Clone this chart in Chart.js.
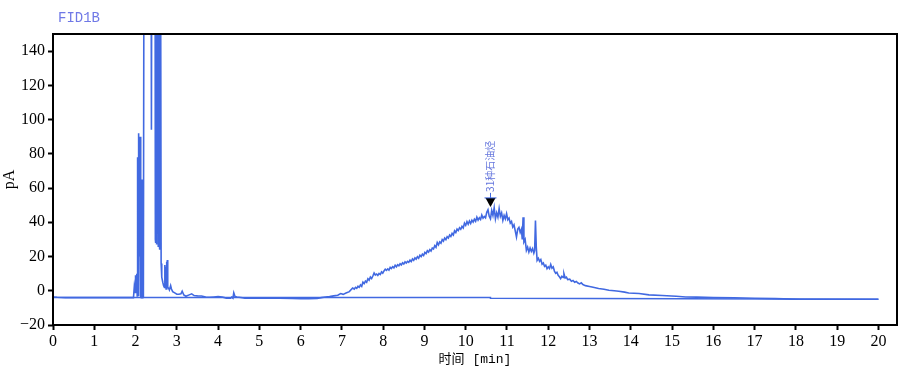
<!DOCTYPE html>
<html>
<head>
<meta charset="utf-8">
<script src="https://cdn.jsdelivr.net/npm/chart.js@4/dist/chart.umd.min.js"></script>
<style>
    html, body { margin: 0; padding: 0; background: #fff; }
</style>
</head>
<body>
<canvas id="chart" width="904" height="372"></canvas>
<script>
// FID1B signal, time in min / current in pA
const signalName = 'FID1B'
const times = [
    0.00, 0.10, 0.30, 1.00, 1.95, 1.97, 1.99, 2.00, 2.02, 2.03, 2.04, 2.05, 2.06, 2.07, 2.08, 2.09,
    2.10, 2.11, 2.12, 2.13, 2.14, 2.15, 2.16, 2.17, 2.18, 2.19, 2.20, 2.21, 2.37, 2.385, 2.40, 2.47,
    2.48, 2.485, 2.49, 2.50, 2.51, 2.52, 2.53, 2.54, 2.55, 2.56, 2.57, 2.58, 2.59, 2.60, 2.61, 2.62,
    2.63, 2.64, 2.66, 2.68, 2.70, 2.71, 2.72, 2.73, 2.74, 2.75, 2.76, 2.77, 2.78, 2.80, 2.82, 2.85,
    2.87, 2.90, 2.95, 3.00, 3.05, 3.10, 3.13, 3.17, 3.22, 3.30, 3.36, 3.42, 3.50, 3.60, 3.70, 3.80,
    3.90, 4.00, 4.10, 4.20, 4.30, 4.33, 4.36, 4.38, 4.41, 4.46, 4.55, 4.65, 5.00, 5.50, 5.80, 6.00,
    6.20, 6.40, 6.50, 6.60, 6.70, 6.80, 6.90, 6.97, 7.03, 7.10, 7.18, 7.26,
    7.30, 7.33, 7.36, 7.39, 7.42, 7.45, 7.48, 7.51, 7.54, 7.57, 7.60, 7.63, 7.66, 7.69, 7.72, 7.75,
    7.78, 7.81, 7.84, 7.87, 7.90, 7.93, 7.96, 7.99, 8.02, 8.05, 8.08, 8.11, 8.14, 8.17, 8.20, 8.23,
    8.26, 8.29, 8.32, 8.35, 8.38, 8.41, 8.44, 8.47, 8.50, 8.53, 8.56, 8.59, 8.62, 8.65, 8.68, 8.71,
    8.74, 8.77, 8.80, 8.83, 8.86, 8.89, 8.92, 8.95, 8.98, 9.01, 9.04, 9.07, 9.10, 9.13, 9.16, 9.19,
    9.22, 9.25, 9.28, 9.31, 9.34, 9.37, 9.40, 9.43, 9.46, 9.49, 9.52, 9.55, 9.58, 9.61, 9.64, 9.67,
    9.70, 9.73, 9.76, 9.79, 9.82, 9.85, 9.88, 9.91, 9.94, 9.97, 10.00, 10.03, 10.06, 10.09, 10.12, 10.15,
    10.18, 10.21, 10.24, 10.27, 10.30, 10.33, 10.36, 10.39, 10.42, 10.45, 10.48, 10.51, 10.54, 10.57, 10.60,
    10.63, 10.66, 10.69, 10.72, 10.75, 10.78, 10.81, 10.84, 10.87, 10.90, 10.93, 10.96, 10.99, 11.02, 11.05, 11.08,
    11.11, 11.14, 11.17, 11.20, 11.23, 11.26, 11.29, 11.32, 11.35, 11.37, 11.39, 11.41, 11.44, 11.47, 11.50, 11.53,
    11.56, 11.59, 11.62, 11.65, 11.67, 11.69, 11.71, 11.73, 11.76, 11.79, 11.82, 11.85, 11.88, 11.91, 11.94, 11.97,
    12.00, 12.03, 12.06, 12.09, 12.12, 12.15, 12.18, 12.21, 12.24, 12.27, 12.30, 12.33, 12.36, 12.38, 12.41, 12.44,
    12.47, 12.52, 12.56, 12.60, 12.64, 12.68, 12.72, 12.76, 12.80, 12.84, 12.90,
    13.00, 13.06, 13.14, 13.22, 13.35, 13.47, 13.60, 13.71, 13.85, 13.95, 14.20, 14.44, 14.76, 15.10, 15.33, 15.60,
    16.00, 16.50, 17.00, 17.50, 17.90, 18.10, 19.00, 20.00
]
const signal = [
    -3.6, -3.8, -4.0, -4.0, -4.0, 2.5, -1, 9, 3, 10, -3, 78, 0, 92, -3, 90,
    20, 90, -4, 5, -4, 65, -4, -4, 65, -4, -4, 300, 300, 94, 300, 300,
    30, 300, 28, 300, 27, 300, 35, 300, 26, 300, 30, 300, 24, 300, 300, 16,
    12, 8, 5, 3, 2, 15, 3, 14, 1, 17, 4, 18, 2, 1.5, 0.5, 3,
    1, -0.5, -1.2, -2, -2, -1.8, -0.3, -2.5, -3.2, -2.4, -1.8, -2.8, -3.0, -3.1, -3.7, -3.8,
    -3.6, -3.4, -3.6, -4.3, -4.4, -3.7, -4.3, -1.2, -3.4, -3.6, -3.9, -4.3, -4.4, -4.4, -4.5, -4.6,
    -4.7, -4.5, -4.0, -3.6, -3.4, -3.0, -2.6, -1.6, -2.1, -1.3, -0.5, 1.6,
    1.0, 2.0, 1.4, 2.6, 2.0, 3.4, 2.6, 5.0, 4.2, 5.6, 4.9, 7.0, 6.2, 8.0, 7.1, 8.6,
    10.4, 9.2, 9.8, 9.0, 10.1, 9.5, 11.0, 10.3, 11.6, 12.6, 11.9, 12.8, 12.1, 13.7, 13.0, 14.1,
    13.4, 14.9, 14.0, 15.2, 14.6, 15.8, 15.1, 16.3, 15.6, 16.9, 16.2, 17.2, 16.6, 17.9, 17.1, 18.6,
    17.8, 19.2, 18.5, 19.9, 19.0, 20.8, 20.0, 21.4, 20.6, 22.4, 21.7, 23.4, 22.6, 24.0, 23.2, 25.0,
    24.4, 26.4, 25.4, 28.2, 26.8, 28.5, 27.8, 29.9, 29.0, 30.8, 29.9, 31.6, 30.8, 32.6, 31.7, 33.5,
    32.6, 35.0, 34.0, 36.0, 35.2, 36.8, 35.9, 37.6, 36.7, 39.5, 38.2, 40.4, 38.9, 40.8, 39.3, 41.2,
    40.1, 41.8, 40.6, 43.0, 41.3, 42.6, 41.6, 44.2, 42.4, 43.4, 42.6, 45.8, 47.3, 43.5, 42.0,
    46.9, 44.0, 48.5, 42.0, 45.5, 43.0, 48.0, 43.5, 45.5, 41.1, 44.0, 42.0, 45.0, 41.5, 42.5, 39.5,
    40.5, 37.2, 38.5, 35.0, 31.4, 36.0, 37.0, 34.0, 36.0, 30.0, 43.0, 28.5, 30.0, 23.6, 25.5, 22.6,
    25.0, 23.0, 24.6, 22.0, 23.5, 41.1, 25.5, 17.8, 19.0, 17.2, 18.2, 15.5, 16.2, 14.3, 15.0, 12.9,
    14.0, 13.0, 15.4, 13.2, 14.0, 11.5, 10.2, 10.8, 9.0, 8.2, 7.1, 8.5, 7.8, 10.0, 7.5, 8.0,
    6.5, 6.8, 5.5, 6.0, 5.0, 5.4, 4.5, 4.0, 4.6, 3.6, 3.0,
    2.5, 2.2, 1.8, 1.3, 0.9, 0.3, 0.0, -0.3, -0.8, -1.3, -1.6, -2.4, -2.8, -3.2, -3.6, -3.7,
    -3.9, -4.1, -4.4, -4.6, -4.9, -5.0, -5.0, -5.0
]
// integration baseline
const baseTimes = [0, 10.6, 10.6, 20]
const baseValues = [-3.9, -3.9, -4.4, -5.0]
// peak annotation
const peakTime = 10.6
const peakTip = 49
const peakLabel = '31种石油烃'
// axes
const xTicks = [0, 1, 2, 3, 4, 5, 6, 7, 8, 9, 10, 11, 12, 13, 14, 15, 16, 17, 18, 19, 20]
const yTicks = [-20, 0, 20, 40, 60, 80, 100, 120, 140]

const lineBlue = '#4169e1'
const tickFont = { family: '"Liberation Serif", serif', size: 16 }

const framePlugin = {
    id: 'frame',
    afterDraw(chart){
        const {ctx, chartArea: a, scales} = chart
        ctx.save()
        // box round the plot
        ctx.strokeStyle = '#000'
        ctx.lineWidth = 2
        ctx.strokeRect(a.left, a.top, a.right - a.left, a.bottom - a.top)

        // signal name, top left
        ctx.fillStyle = '#6f78e6'
        ctx.font = '14px "Liberation Mono", monospace'
        ctx.textBaseline = 'middle'
        ctx.fillText(signalName, 58, 18)

        // peak marker
        const px = Math.round(scales.x.getPixelForValue(peakTime)) + 0.5
        const py = scales.y.getPixelForValue(peakTip)
        ctx.fillStyle = '#000'
        ctx.beginPath()
        ctx.moveTo(px - 5, py - 9)
        ctx.lineTo(px + 5, py - 9)
        ctx.lineTo(px, py)
        ctx.closePath()
        ctx.fill()
        ctx.strokeStyle = lineBlue
        ctx.lineWidth = 1
        ctx.beginPath()
        ctx.moveTo(px - 6, py - 9)
        ctx.lineTo(px + 6, py - 9)
        ctx.moveTo(px, py - 9)
        ctx.lineTo(px, py - 14)
        ctx.stroke()

        // vertical peak label
        ctx.translate(px, py - 15)
        ctx.rotate(-Math.PI / 2)
        ctx.fillStyle = '#6677dd'
        ctx.font = '10px "Noto Sans CJK SC", sans-serif'
        ctx.textAlign = 'left'
        ctx.textBaseline = 'middle'
        ctx.fillText(peakLabel, 0, 0)
        ctx.restore()
    }
}

var ctx = document.getElementById('chart').getContext('2d')
var myChart = new Chart(ctx, {
    type: 'line',
    data: {
        datasets: [{
            label: 'baseline',
            data: baseTimes.map((t, i) => ({ x: t, y: baseValues[i] })),
            borderColor: lineBlue,
            borderWidth: 1.5,
            pointRadius: 0,
            tension: 0
        }, {
            label: signalName,
            data: times.map((t, i) => ({ x: t, y: signal[i] })),
            borderColor: lineBlue,
            borderWidth: 1.6,
            pointRadius: 0,
            tension: 0
        }]
    },
    options: {
        responsive: false,
        animation: false,
        devicePixelRatio: 1,
        layout: { padding: { top: 34, right: 7, left: 0, bottom: 0 } },
        plugins: {
            legend: { display: false },
            tooltip: { enabled: false }
        },
        scales: {
            x: {
                type: 'linear',
                min: 0,
                max: 20.45,
                afterBuildTicks: scale => { scale.ticks = xTicks.map(v => ({ value: v })) },
                afterFit: scale => { scale.height = 47 },
                border: { display: false },
                grid: { drawOnChartArea: false, tickLength: 5, tickColor: '#000', tickWidth: 2 },
                ticks: { color: '#000', font: tickFont, padding: 2, maxRotation: 0, autoSkip: false },
                title: {
                    display: true,
                    text: '时间 [min]',
                    color: '#000',
                    font: { family: '"Liberation Mono", "Noto Sans CJK SC", monospace', size: 13 },
                    padding: { top: 0, bottom: 5 }
                }
            },
            y: {
                min: -20,
                max: 150,
                afterBuildTicks: scale => { scale.ticks = yTicks.map(v => ({ value: v })) },
                afterFit: scale => { scale.width = 53 },
                border: { display: false },
                grid: { drawOnChartArea: false, tickLength: 5, tickColor: '#000', tickWidth: 2 },
                ticks: {
                    color: '#000',
                    font: tickFont,
                    padding: 3,
                    callback: v => String(v).replace('-', '\u2212')
                },
                title: {
                    display: true,
                    text: 'pA',
                    color: '#000',
                    font: { family: '"Liberation Serif", serif', size: 16 },
                    padding: 0
                }
            }
        }
    },
    plugins: [framePlugin]
})
</script>
</body>
</html>
